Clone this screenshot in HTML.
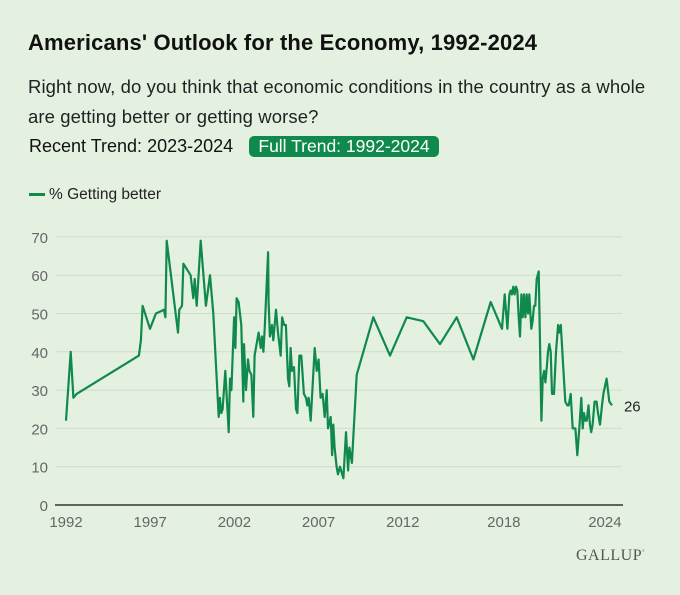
<!DOCTYPE html>
<html><head><meta charset="utf-8"><style>
body{margin:0;background:#e4f1e1;width:680px;height:595px;overflow:hidden;font-family:"Liberation Sans",sans-serif;position:relative}
.abs{position:absolute;white-space:nowrap}
</style></head><body>
<div class="abs" style="left:28px;top:30px;font-size:22px;font-weight:bold;color:#111;letter-spacing:0.15px">Americans' Outlook for the Economy, 1992-2024</div>
<div class="abs" style="left:28px;top:72px;font-size:18.5px;line-height:30px;color:#222;letter-spacing:0.1px">Right now, do you think that economic conditions in the country as a whole<br>are getting better or getting worse?</div>
<div class="abs" style="left:29px;top:136px;font-size:18px;color:#111;line-height:21px">Recent Trend: 2023-2024</div>
<div class="abs" style="left:249px;top:136px;width:190px;height:21px;background:#108a4c;color:#fff;border-radius:5px;font-size:17.5px;line-height:21px;text-align:center">Full Trend: 1992-2024</div>
<div class="abs" style="left:29px;top:186px;font-size:15.5px;color:#222"><span style="display:inline-block;width:16px;height:3px;background:#108a4c;vertical-align:middle;margin-right:4px"></span>% Getting better</div>
<svg id="chart" width="680" height="595" style="position:absolute;left:0;top:0"></svg>
<div class="abs" style="left:576px;top:547px;font-family:'Liberation Serif',serif;font-size:16px;color:#555;letter-spacing:0.5px">GALLUP<sup style="font-size:6px">°</sup></div>
<script>
const yearOffsets=[0,.28,.44,.63,4.33,4.45,4.55,4.99,5.34,5.82,5.90,5.98,6.65,6.73,6.89,6.97,7.40,7.56,7.64,7.76,8.00,8.31,8.55,8.75,9.07,9.14,9.22,9.30,9.46,9.66,9.74,9.82,9.98,10.06,10.13,10.25,10.41,10.53,10.57,10.69,10.81,10.89,11.01,11.12,11.20,11.32,11.44,11.56,11.64,11.72,11.80,12.00,12.03,12.11,12.23,12.31,12.47,12.59,12.75,12.83,12.95,13.06,13.18,13.26,13.34,13.42,13.54,13.66,13.74,13.86,13.97,14.13,14.25,14.33,14.41,14.53,14.77,14.89,15.00,15.12,15.24,15.36,15.48,15.56,15.72,15.80,15.87,15.95,16.07,16.15,16.27,16.47,16.63,16.75,16.83,16.98,17.26,18.25,19.24,20.23,21.22,22.21,23.20,24.19,25.22,25.89,26.05,26.21,26.33,26.41,26.48,26.56,26.64,26.72,26.80,26.88,26.96,27.04,27.12,27.20,27.28,27.36,27.44,27.51,27.63,27.71,27.79,27.87,27.95,28.07,28.23,28.31,28.39,28.47,28.55,28.62,28.70,28.78,28.86,28.98,29.10,29.22,29.30,29.38,29.50,29.65,29.77,29.85,29.97,30.09,30.25,30.36,30.48,30.60,30.68,30.76,30.84,30.92,31.03,31.11,31.19,31.27,31.39,31.51,31.59,31.71,31.83,31.91,32.10,32.26,32.42];
const values=[22,40,28,29,39,43,52,46,50,51,49,69,45,51,52,63,60,54,59,52,69,52,60,50,23,28,24,25,35,19,33,30,49,41,54,53,47,27,42,30,38,35,34,23,39,42,45,41,44,40,46,66,53,44,47,43,51,45,39,49,47,47,33,31,41,35,36,25,24,39,39,29,28,26,28,22,41,35,38,28,29,23,30,20,23,13,21,15,10,8,10,7,19,9,15,11,34,49,39,49,48,42,49,38,53,46,55,46,55,56,55,57,55,57,56,49,44,55,49,55,49,55,50,55,46,48,52,52,59,61,22,33,35,32,36,40,42,40,29,29,40,47,45,47,38,27,26,26,29,20,20,13,20,28,20,24,22,22,26,21,19,21,27,27,24,21,26,29,33,27,26];
const yTicks=[0,10,20,30,40,50,60,70];
const xTicks=[1992,1997,2002,2007,2012,2018,2024];
const baseYear=1992;
const NS="http://www.w3.org/2000/svg";
const svg=document.getElementById('chart');
const X=y=>66+(y-1992)*16.84;
const Y=v=>505-v*3.83;
function mk(t,a){const e=document.createElementNS(NS,t);for(const k in a)e.setAttribute(k,a[k]);svg.appendChild(e);return e;}
yTicks.forEach(v=>{
  if(v>0){const g=mk('line',{x1:56,x2:622,y1:Y(v),y2:Y(v),stroke:'#cfdccc','stroke-width':1});
  
  }
  const t=mk('text',{x:48,y:Y(v)+6,'text-anchor':'end','font-size':15,fill:'#666','font-family':'Liberation Sans, sans-serif'});
  t.textContent=v;
  
  
});
const ax=mk('line',{x1:55,x2:623,y1:Y(0),y2:Y(0),stroke:'#333','stroke-width':1.5});


xTicks.forEach(yr=>{
  const t=mk('text',{x:X(yr),y:527,'text-anchor':'middle','font-size':15,fill:'#666','font-family':'Liberation Sans, sans-serif'});
  t.textContent=yr;
  
  
});
const d=yearOffsets.map((o,i)=>(i?'L':'M')+X(baseYear+o).toFixed(1)+','+Y(values[i]).toFixed(1)).join('');
const p=mk('path',{d:d,fill:'none',stroke:'#108a4c','stroke-width':2.2,'stroke-linejoin':'round'});


const last=values.length-1;
const lb=mk('text',{x:X(baseYear+yearOffsets[last])+12,y:Y(values[last])+6,'font-size':15,fill:'#222','font-family':'Liberation Sans, sans-serif'});
lb.textContent=values[last];


</script>
</body></html>
